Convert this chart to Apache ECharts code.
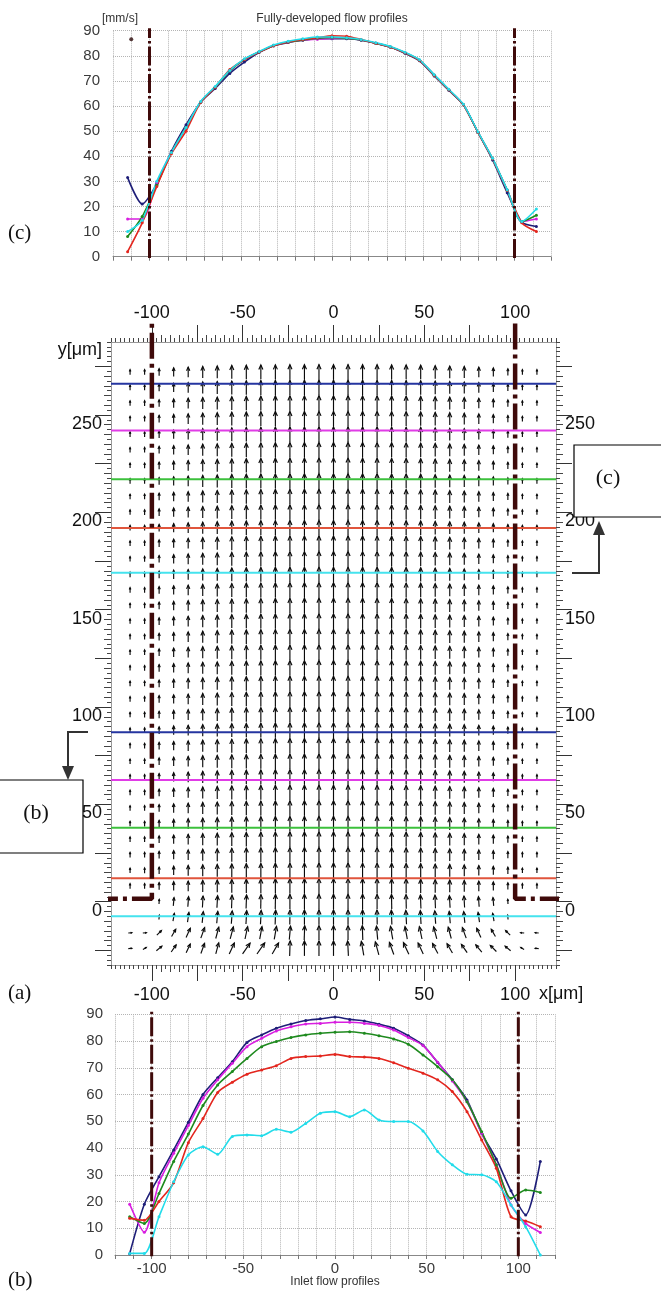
<!DOCTYPE html>
<html lang="en">
<head>
<meta charset="UTF-8">
<title>flow profiles</title>
<style>
  html, body { margin: 0; padding: 0; background: #fff; }
  #main { width: 661px; height: 1291px; }
</style>
<script src="https://cdn.jsdelivr.net/npm/echarts@6/dist/echarts.min.js"></script>
</head>
<body>
<div id="main"></div>
<script>
// column positions of the PIV vectors [um]
var xs = [-112, -104, -96, -88, -80, -72, -64, -56, -48, -40, -32, -24, -16, -8, 0,
          8, 16, 24, 32, 40, 48, 56, 64, 72, 80, 88, 96, 104, 112];

// (c) fully-developed flow profiles [mm/s]
var cNavy    = [31.5, 21, 29, 42, 52.5, 61.5, 67, 73, 77.5, 81.3, 84, 85.3, 86.2, 86.8, 86.8, 86.8, 86.2, 85, 83.5, 81, 78, 72, 66.3, 60.5, 49.5, 38.5, 25.5, 13.8, 12];
var cMagenta = [15, 15, 29.5, 41.5, 51.5, 61.5, 67.5, 74, 78.5, 81.5, 84, 85.5, 86.3, 86.6, 87, 87, 86.3, 85, 83.5, 81.2, 78.2, 72.3, 66.5, 60.5, 49.5, 39, 26.5, 14, 15];
var cGreen   = [8, 16, 28.5, 41.5, 51.5, 61.5, 67.5, 74, 78.5, 81.5, 84, 85.5, 86.3, 87, 87.3, 87, 86.3, 85, 83.5, 81.2, 78.2, 72.3, 66.5, 60.5, 49.5, 39, 26.5, 14, 16.5];
var cRed     = [2, 13.5, 28, 41, 50, 61.5, 67.5, 74.5, 78.5, 81.5, 84, 85.5, 86.5, 87.2, 88, 87.8, 86.5, 85, 83.5, 81.2, 78.2, 72.3, 66.5, 60.5, 49.5, 39, 26.5, 13.5, 10];
var cCyan    = [10, 14.5, 30, 41.5, 51.5, 61.8, 67.8, 74.2, 78.8, 81.7, 84.3, 85.8, 86.8, 87.5, 87.5, 87.2, 86.5, 85.2, 83.7, 81.4, 78.4, 72.5, 66.7, 60.7, 49.7, 39.2, 26.7, 14, 19];
var cStray   = [[-110, 86.6]];

// (b) inlet flow profiles [mm/s]
var bNavy    = [0.5, 19, 29.3, 39.3, 49.6, 60, 66.3, 72.3, 79.5, 82.3, 84.8, 86.4, 87.7, 88.3, 89, 88.1, 87.5, 86.3, 84.8, 82, 78.5, 72, 65.5, 58, 45.5, 35.9, 24, 15, 35];
var bMagenta = [19, 8.5, 27, 38, 48.4, 58.6, 65.5, 71.7, 77.9, 81, 83.8, 85.3, 86.4, 86.6, 87, 87, 86.6, 85.8, 84.1, 81.3, 78.3, 72.1, 65.1, 57.3, 45.5, 33.7, 18.7, 11.8, 8.4];
var bGreen   = [14.3, 11.8, 23, 35, 45.2, 55.9, 63.6, 68.6, 73.5, 77.9, 79.8, 81.3, 82.3, 82.9, 83.3, 83.5, 82.9, 82, 80.8, 78.8, 74.8, 70.4, 65.5, 57.3, 46.1, 33.7, 21.2, 24.3, 23.4];
var bRed     = [13.7, 13, 20, 27, 42, 51, 60.8, 64.6, 67.6, 69.2, 70.8, 73.5, 74.2, 74.4, 75, 74.2, 74, 73.5, 71.9, 69.8, 68, 65.5, 61.1, 53.6, 43, 32.4, 14.3, 12.7, 10.6];
var bCyan    = [0.6, 0.6, 14.3, 27.4, 37.4, 40.5, 37.7, 44.3, 44.9, 44.6, 47, 45.9, 49.2, 53, 53.6, 51.7, 54.2, 50.5, 49.9, 49.9, 46.4, 38.7, 33.7, 30.2, 30, 27.4, 18.7, 10.6, 0];

// (a) vector field: rows [um], developed speed per column, inlet rows
var fieldRows = [-24, -16, -8, 0, 8, 16, 24, 32, 40, 48, 56, 64, 72, 80, 88, 96, 104, 112, 120,
                 128, 136, 144, 152, 160, 168, 176, 184, 192, 200, 208, 216, 224, 232, 240, 248, 256, 264, 272];
var devSpeed = [14, 15, 29, 41, 51, 61, 67, 74, 78, 81, 84, 85, 86, 87, 87, 87, 86, 85, 83, 81, 78, 72, 66, 60, 50, 39, 26, 14, 14];
var inletRows = [-24, -16, -8, 0];
var inletTilt = [
  [85, 60, 50, 35, 25, 20, 15, 25, 35, 35, 30, 2, 0, 0, 0, -3, -10, -15, -20, -25, -25, -28, -30, -35, -40, -45, -50, -60, -85],
  [85, 85, 45, 30, 25, 20, 15, 15, 12, 10, 10, 5, 2, 0, 0, 0, -2, -5, -10, -10, -12, -15, -15, -20, -25, -30, -45, -85, -85],
  [0, 0, 5, 10, 8, 6, 5, 4, 3, 3, 2, 1, 0, 0, 0, 0, 0, -1, -2, -3, -3, -4, -5, -6, -8, -10, -5, 0, 0],
  [0, 0, 3, 5, 4, 3, 3, 2, 2, 1, 1, 0, 0, 0, 0, 0, 0, 0, -1, -1, -2, -2, -3, -3, -4, -5, -3, 0, 0]
];
var inletSpeed = [
  [4, 6, 30, 40, 48, 55, 60, 65, 72, 75, 70, 85, 85, 85, 85, 85, 80, 75, 70, 70, 65, 60, 55, 50, 45, 40, 30, 6, 4],
  [4, 4, 25, 38, 50, 58, 62, 66, 68, 70, 72, 76, 80, 82, 82, 82, 80, 76, 72, 70, 68, 66, 62, 58, 50, 38, 25, 4, 4],
  [0, 0, 10, 35, 48, 58, 64, 70, 74, 77, 80, 82, 84, 85, 85, 85, 84, 82, 80, 77, 74, 70, 64, 58, 48, 35, 10, 0, 0],
  [0, 0, 12, 38, 50, 60, 66, 72, 76, 80, 82, 84, 85, 86, 86, 86, 85, 84, 82, 80, 76, 72, 66, 60, 50, 38, 12, 0, 0]
];
// profile cut lines drawn across the field [um]
var cutTop = [266, 242, 217, 192, 169];
var cutBottom = [87, 62.5, 38, 12, -7.5];
// channel walls
var wallX = 100, wallTopY = 297, stepY = 1.5, inletWallX = 133;
var profileRange = [0, 90];

// colours
var lineColors = ['#1e1e78', '#d81ee0', '#1e8a1e', '#e3261e', '#22dcea'];
var cutColors  = ['#2535a0', '#e03ce6', '#3cc03c', '#e0553c', '#45e3ee'];
var wallColor = '#3f0a0a';
var font = 'Liberation Sans';

// panel (a) box geometry
var boxL = 111, boxR = 556, boxT = 342, boxB = 965;
var fxMin = -122.5, fxMax = 122.5, fyMin = -32.5, fyMax = 287.5;
function px(v) { return boxL + (v - fxMin) * (boxR - boxL) / (fxMax - fxMin); }
function py(v) { return boxT + (fyMax - v) * (boxB - boxT) / (fyMax - fyMin); }

// build vector data
var fieldData = [];
fieldRows.forEach(function (y) {
  var k = inletRows.indexOf(y);
  xs.forEach(function (x, i) {
    var tilt = k >= 0 ? inletTilt[k][i] : 0;
    var sp = k >= 0 ? inletSpeed[k][i] : devSpeed[i];
    if (sp > 0) fieldData.push([x, y, tilt, sp]);
  });
});

function renderArrow(params, api) {
  var c = api.coord([api.value(0), api.value(1)]);
  var t = api.value(2) * Math.PI / 180;
  var len = 3 + 0.14 * api.value(3);
  var dx = Math.sin(t), dy = -Math.cos(t);
  var tail = [c[0] - dx * len / 2, c[1] - dy * len / 2];
  var tip = [c[0] + dx * len / 2, c[1] + dy * len / 2];
  var hl = Math.min(5, len * 0.4), ha = 0.42;
  var bx = -dx, by = -dy;
  var h1 = [tip[0] + hl * (bx * Math.cos(ha) - by * Math.sin(ha)), tip[1] + hl * (bx * Math.sin(ha) + by * Math.cos(ha))];
  var h2 = [tip[0] + hl * (bx * Math.cos(ha) + by * Math.sin(ha)), tip[1] + hl * (-bx * Math.sin(ha) + by * Math.cos(ha))];
  var st = { stroke: '#0a0a0a', lineWidth: 1.15, fill: null };
  return {
    type: 'group',
    children: [
      { type: 'polyline', shape: { points: [tail, tip] }, style: st },
      { type: 'polyline', shape: { points: [h1, tip, h2] }, style: st }
    ]
  };
}

function every50(v) { return v % 50 === 0 ? String(v) : ''; }

function profile(vals, color, xi, yi) {
  return {
    type: 'line', xAxisIndex: xi, yAxisIndex: yi,
    data: xs.map(function (x, i) { return [x, vals[i]]; }),
    symbol: 'circle', symbolSize: 3, smooth: 0.25,
    lineStyle: { color: color, width: 1.6 }, itemStyle: { color: color },
    z: 3, silent: true
  };
}

function wall(points, xi, yi, dash, w) {
  return {
    type: 'line', xAxisIndex: xi, yAxisIndex: yi, data: points, symbol: 'none', clip: false,
    lineStyle: { color: wallColor, width: w, type: dash, cap: 'butt' }, z: 8, silent: true
  };
}

var gridLine = { show: true, lineStyle: { color: '#b4b4b4', type: 'dotted', width: 1 } };
var profLabel = { fontSize: 15, color: '#3a3a3a', fontFamily: font };
var rulerShort = { show: true, length: 4, lineStyle: { color: '#444' } };
var boxLine = { onZero: false, lineStyle: { color: '#999' } };
var noLine = { show: false, onZero: false };

var xAxes = [
  // 0: panel c
  { gridIndex: 0, type: 'value', min: -120, max: 120, interval: 10, position: 'bottom',
    axisLine: { onZero: false, lineStyle: { color: '#888' } }, axisTick: { show: true, length: 4, lineStyle: { color: '#777' } },
    axisLabel: { show: false }, splitLine: gridLine },
  // 1,2: panel a box rulers
  { gridIndex: 1, type: 'value', min: fxMin, max: fxMax, interval: 2.5, position: 'bottom',
    axisLine: boxLine, axisTick: rulerShort, axisLabel: { show: false }, splitLine: { show: false } },
  { gridIndex: 1, type: 'value', min: fxMin, max: fxMax, interval: 2.5, position: 'top',
    axisLine: boxLine, axisTick: rulerShort, axisLabel: { show: false }, splitLine: { show: false } },
  // 3,4: panel a major ticks and labels
  { gridIndex: 2, type: 'value', min: -100, max: 100, interval: 25, position: 'bottom',
    axisLine: noLine, axisTick: { show: true, length: 16, lineStyle: { color: '#333' } },
    minorTick: { show: true, splitNumber: 5, length: 7, lineStyle: { color: '#444' } },
    axisLabel: { formatter: every50, margin: 21, fontSize: 18, color: '#111', fontFamily: font },
    splitLine: { show: false } },
  { gridIndex: 2, type: 'value', min: -100, max: 100, interval: 25, position: 'top',
    axisLine: noLine, axisTick: { show: true, length: 17, lineStyle: { color: '#333' } },
    minorTick: { show: true, splitNumber: 5, length: 7, lineStyle: { color: '#444' } },
    axisLabel: { formatter: every50, margin: 20, fontSize: 18, color: '#111', fontFamily: font },
    splitLine: { show: false } },
  // 5: dummy for grid 3
  { gridIndex: 3, type: 'value', min: fxMin, max: fxMax, show: false, axisLine: noLine },
  // 6: panel b
  { gridIndex: 4, type: 'value', min: -120, max: 120, interval: 10, position: 'bottom',
    axisLine: { onZero: false, lineStyle: { color: '#888' } }, axisTick: { show: true, length: 4, lineStyle: { color: '#777' } },
    axisLabel: Object.assign({ formatter: every50, margin: 6 }, profLabel), splitLine: gridLine }
];

var yAxes = [
  // 0: panel c
  { gridIndex: 0, type: 'value', min: profileRange[0], max: profileRange[1], interval: 10,
    axisLine: noLine, axisTick: { show: false },
    axisLabel: Object.assign({ margin: 13 }, profLabel), splitLine: gridLine },
  // 1,2: panel a box rulers
  { gridIndex: 1, type: 'value', min: fyMin, max: fyMax, interval: 2.5, position: 'left',
    axisLine: boxLine, axisTick: rulerShort, axisLabel: { show: false }, splitLine: { show: false } },
  { gridIndex: 1, type: 'value', min: fyMin, max: fyMax, interval: 2.5, position: 'right',
    axisLine: boxLine, axisTick: rulerShort, axisLabel: { show: false }, splitLine: { show: false } },
  // 3: dummy for grid 2
  { gridIndex: 2, type: 'value', min: fyMin, max: fyMax, show: false, axisLine: noLine },
  // 4,5: panel a major ticks and labels
  { gridIndex: 3, type: 'value', min: -25, max: 275, interval: 25, position: 'left',
    axisLine: noLine, axisTick: { show: true, length: 16, lineStyle: { color: '#333' } },
    minorTick: { show: true, splitNumber: 5, length: 7, lineStyle: { color: '#444' } },
    axisLabel: { formatter: every50, margin: 9, verticalAlign: 'top', fontSize: 18, color: '#111', fontFamily: font },
    splitLine: { show: false } },
  { gridIndex: 3, type: 'value', min: -25, max: 275, interval: 25, position: 'right',
    axisLine: noLine, axisTick: { show: true, length: 16, lineStyle: { color: '#333' } },
    minorTick: { show: true, splitNumber: 5, length: 7, lineStyle: { color: '#444' } },
    axisLabel: { formatter: every50, margin: 9, verticalAlign: 'top', fontSize: 18, color: '#111', fontFamily: font },
    splitLine: { show: false } },
  // 6: panel b
  { gridIndex: 4, type: 'value', min: profileRange[0], max: profileRange[1], interval: 10,
    axisLine: noLine, axisTick: { show: false },
    axisLabel: Object.assign({ margin: 12 }, profLabel), splitLine: gridLine }
];

var series = [];
// panel c
[cNavy, cMagenta, cGreen, cRed, cCyan].forEach(function (v, i) { series.push(profile(v, lineColors[i], 0, 0)); });
series.push({ type: 'scatter', xAxisIndex: 0, yAxisIndex: 0, data: cStray, symbolSize: 4, itemStyle: { color: '#2a0808' }, silent: true });
series.push(wall([[-wallX, -0.5], [-wallX, 91]], 0, 0, [19, 3, 2.5, 3], 3));
series.push(wall([[wallX, -0.5], [wallX, 91]], 0, 0, [19, 3, 2.5, 3], 3));

// panel a
series.push({ type: 'custom', xAxisIndex: 1, yAxisIndex: 1, data: fieldData, renderItem: renderArrow, z: 2, silent: true });
cutTop.concat(cutBottom).forEach(function (y, i) {
  series.push({ type: 'line', xAxisIndex: 1, yAxisIndex: 1, data: [[fxMin, y], [fxMax, y]], symbol: 'none',
    lineStyle: { color: cutColors[i % 5], width: 2 }, z: 4, silent: true });
});
series.push(wall([[-inletWallX, stepY], [-wallX, stepY], [-wallX, wallTopY]], 1, 1, [26, 5, 4, 5], 4.5));
series.push(wall([[wallX, wallTopY], [wallX, stepY], [inletWallX, stepY]], 1, 1, [26, 5, 4, 5], 4.5));

// panel b
[bNavy, bMagenta, bGreen, bRed, bCyan].forEach(function (v, i) { series.push(profile(v, lineColors[i], 6, 6)); });
series.push(wall([[-wallX, -0.5], [-wallX, 91]], 6, 6, [19, 3, 2.5, 3], 3));
series.push(wall([[wallX, -0.5], [wallX, 91]], 6, 6, [19, 3, 2.5, 3], 3));

function txt(x, y, text, size, align, family, color) {
  return { type: 'text', x: x, y: y, z: 100,
    style: { text: text, fontSize: size, fontFamily: family || font, fill: color || '#111',
      align: align, textAlign: align, verticalAlign: 'middle', textVerticalAlign: 'middle' } };
}

var graphics = [
  txt(102, 19, '[mm/s]', 12, 'left', font, '#333'),
  txt(332, 19, 'Fully-developed flow profiles', 12, 'center', font, '#333'),
  txt(8, 233, '(c)', 21, 'left', 'Liberation Serif'),
  txt(102, 350, 'y[\u03bcm]', 18, 'right'),
  txt(539, 994, 'x[\u03bcm]', 18, 'left'),
  txt(8, 993, '(a)', 21, 'left', 'Liberation Serif'),
  txt(335, 1282, 'Inlet flow profiles', 12, 'center', font, '#333'),
  txt(8, 1280, '(b)', 21, 'left', 'Liberation Serif'),
  // (c) callout
  { type: 'rect', z: 100, shape: { x: 574, y: 445, width: 100, height: 72 }, style: { fill: '#fff', stroke: '#000', lineWidth: 1.2 } },
  txt(608, 478, '(c)', 22, 'center', 'Liberation Serif'),
  { type: 'polyline', z: 100, shape: { points: [[572, 573], [599, 573], [599, 533]] }, style: { stroke: '#333', lineWidth: 2, fill: null } },
  { type: 'polygon', z: 100, shape: { points: [[593, 535], [605, 535], [599, 521]] }, style: { fill: '#333' } },
  // (b) callout
  { type: 'rect', z: 100, shape: { x: -10, y: 780, width: 93, height: 73 }, style: { fill: '#fff', stroke: '#000', lineWidth: 1.2 } },
  txt(36, 813, '(b)', 22, 'center', 'Liberation Serif'),
  { type: 'polyline', z: 100, shape: { points: [[88, 732], [68, 732], [68, 768]] }, style: { stroke: '#333', lineWidth: 2, fill: null } },
  { type: 'polygon', z: 100, shape: { points: [[62, 766], [74, 766], [68, 780]] }, style: { fill: '#333' } }
];

var chart = echarts.init(document.getElementById('main'), null, { renderer: 'canvas' });
chart.setOption({
  backgroundColor: '#fff',
  animation: false,
  textStyle: { fontFamily: font },
  grid: [
    { left: 113, top: 30.7, width: 438, height: 226 },
    { left: boxL, top: boxT, width: boxR - boxL, height: boxB - boxT },
    { left: px(-100), top: boxT, width: px(100) - px(-100), height: boxB - boxT },
    { left: boxL, top: py(275), width: boxR - boxL, height: py(-25) - py(275) },
    { left: 115, top: 1014.3, width: 440, height: 240.7 }
  ],
  xAxis: xAxes,
  yAxis: yAxes,
  series: series,
  graphic: graphics
});
</script>
</body>
</html>
